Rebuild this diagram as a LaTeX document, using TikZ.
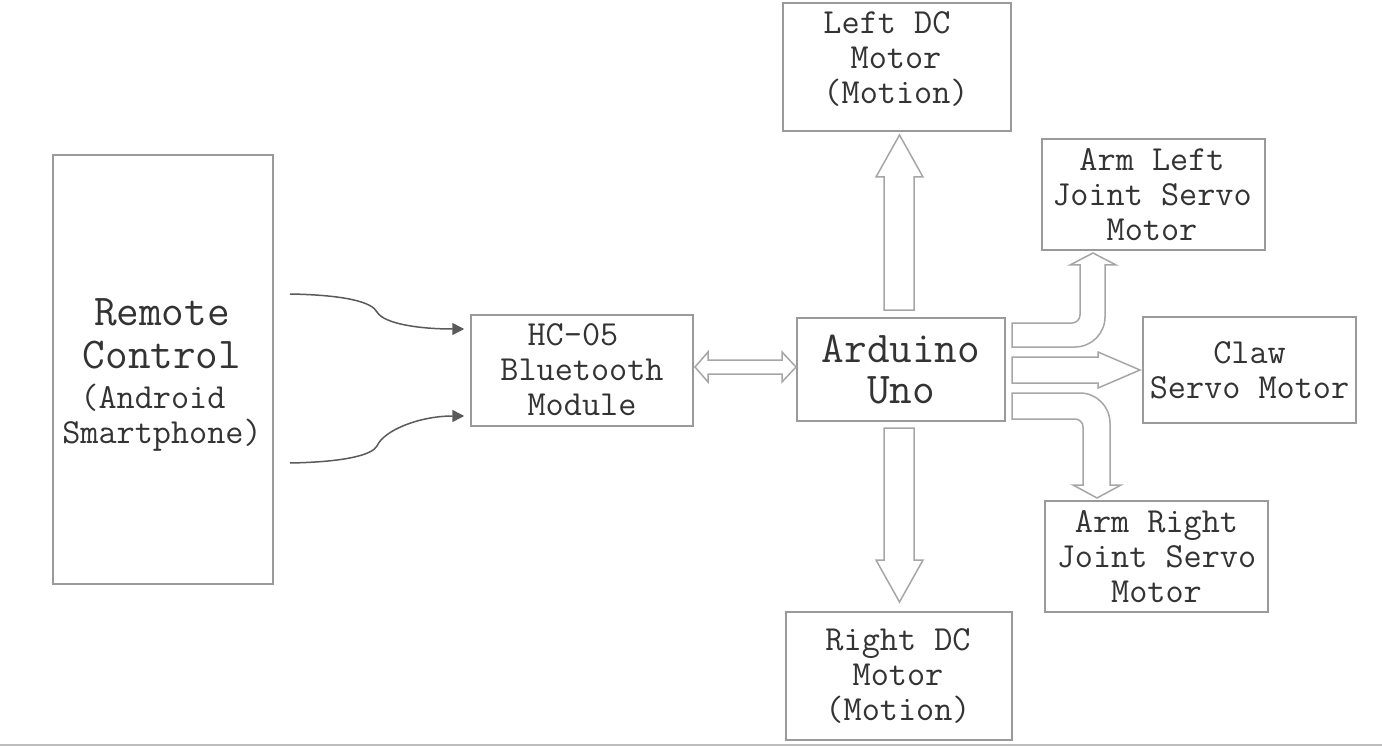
\documentclass[tikz,border=0pt]{standalone}
\usepackage{fontspec}
\usetikzlibrary{arrows.meta,calc}
\definecolor{boxc}{HTML}{9A9A9A}
\definecolor{arrc}{HTML}{A6A6A6}
\definecolor{txt}{HTML}{333333}
\definecolor{curv}{HTML}{5A5A5A}
\definecolor{baseln}{HTML}{BDBDBD}
\newcommand{\smf}{\ttfamily\fontsize{35.2}{35}\selectfont}
\newcommand{\bigf}{\ttfamily\fontsize{44}{41}\selectfont}
\newcommand{\tsp}{\phantom{x}}
\begin{document}
\begin{tikzpicture}[x=1pt,y=-1pt,
  box/.style={draw=boxc, line width=1.5pt, fill=white, inner sep=0pt},
  lbl/.style={text=txt, font=\smf, align=center, inner sep=0pt},
  blk/.style={draw=arrc, line width=1.5pt, fill=white, line join=miter},
  curvy/.style={draw=curv, line width=1.5pt, -{Triangle[length=12pt,width=12pt]}}]
\useasboundingbox[fill=white] (0,0) rectangle (1382,746);
\draw[baseln, line width=2pt] (0,744.5) -- (1382,744.5);

% boxes
\node[box, minimum width=220pt, minimum height=429pt] (rc) at (163,369.5) {};
\node[box, minimum width=228pt, minimum height=128pt] (ldc) at (897,67) {};
\node[box, minimum width=223pt, minimum height=111pt] (alj) at (1153.5,194.5) {};
\node[box, minimum width=213pt, minimum height=106pt] (claw) at (1249.5,370) {};
\node[box, minimum width=223pt, minimum height=111pt] (arj) at (1156.5,556.5) {};
\node[box, minimum width=226pt, minimum height=128pt] (rdc) at (899,676) {};
\node[box, minimum width=222pt, minimum height=111pt] (hc) at (582,370.5) {};
\node[box, minimum width=208pt, minimum height=103pt] (ard) at (901,369.5) {};

% texts
\node[lbl] (rct) at (162,374.5) {\bigf Remote\\[8pt]\bigf Control\\[5pt]\smf(Android\tsp\\\smf Smartphone)};
\node[lbl] (ldct) at (896,59) {Left DC\tsp\\Motor\\(Motion)};
\node[lbl] (aljt) at (1152,195) {Arm Left\\Joint Servo\\Motor};
\node[lbl] (clawt) at (1249.5,370) {Claw\\Servo Motor};
\node[lbl] (arjt) at (1156.5,557) {Arm Right\\Joint Servo\\Motor};
\node[lbl] (rdct) at (898,676) {Right DC\\Motor\\(Motion)};
\node[lbl] (hct) at (582,370) {HC-05\tsp\\Bluetooth\\Module};
\node[lbl, font=\bigf] (ardt) at (901,369.5) {Arduino\\Uno};

% curved arrows from remote to HC-05
\coordinate (r1) at (290,294);
\coordinate (r2) at (290,463);
\coordinate (h1) at ($(hc.west)+(-6,-41.5)$);
\coordinate (h2) at ($(hc.west)+(-6,45.5)$);
\draw[curvy] (r1) .. controls (345,295) and (372,302) .. (377,312)
  .. controls (384,324) and (420,329) .. (h1);
\draw[curvy] (r2) .. controls (345,462) and (372,455) .. (377,446)
  .. controls (384,430) and (420,416) .. (h2);

% bidirectional block arrow HC-05 <-> Arduino
\path[blk] (695,367) -- (708,352) -- (708,360) -- (782,360) -- (782,352) -- (796,367)
  -- (782,382) -- (782,374) -- (708,374) -- (708,382) -- cycle;

% up arrow to Left DC motor
\path[blk] (884,310) -- (884,177) -- (876,177) -- (899.5,135) -- (923,177) -- (914,177) -- (914,310) -- cycle;
% down arrow to Right DC motor
\path[blk] (884,428) -- (884,560) -- (876,560) -- (899.5,602) -- (923,560) -- (914,560) -- (914,428) -- cycle;
% arrow to claw
\path[blk] (1012,357) -- (1098,357) -- (1098,352) -- (1140,370) -- (1098,388) -- (1098,383) -- (1012,383) -- cycle;
% bent arrow to arm left joint
\path[blk] (1012,323) -- (1072,323) .. controls (1076.4,323) and (1080,319.4) .. (1080,315)
  -- (1080,265) -- (1070,265) -- (1093,253) -- (1116,265) -- (1105,265) -- (1105,317)
  .. controls (1105,333.5) and (1091.5,347) .. (1075,347) -- (1012,347) -- cycle;
% bent arrow to arm right joint
\path[blk] (1012,393) -- (1080,393) .. controls (1096.5,393) and (1110,406.5) .. (1110,423)
  -- (1110,485) -- (1121,485) -- (1097,498) -- (1073,485) -- (1083,485) -- (1083,427)
  .. controls (1083,422.6) and (1079.4,419) .. (1075,419) -- (1012,419) -- cycle;
\end{tikzpicture}
\end{document}
